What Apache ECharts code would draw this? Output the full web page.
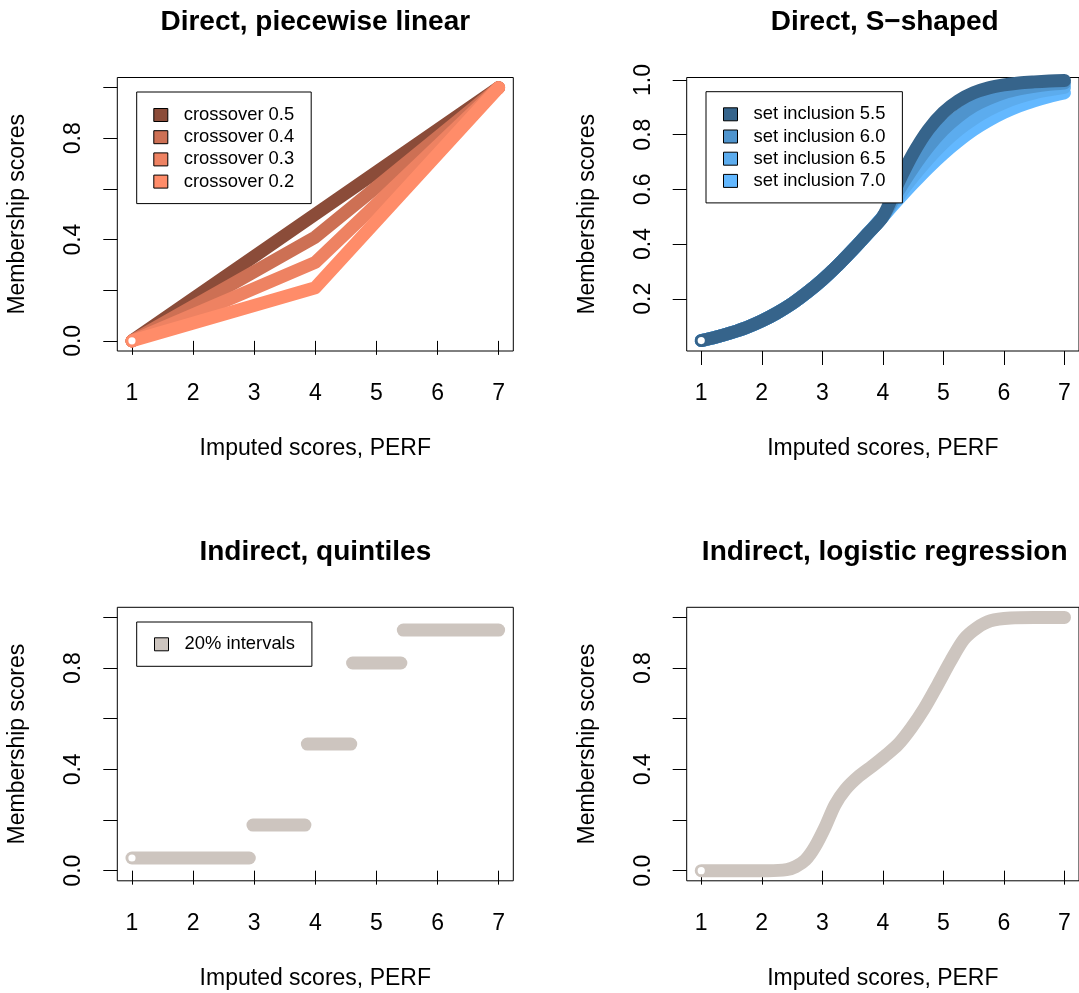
<!DOCTYPE html>
<html><head><meta charset="utf-8">
<script src="https://cdn.jsdelivr.net/npm/echarts@6/dist/echarts.min.js"></script>
<style>html,body{margin:0;padding:0;background:#fff}#c{width:1079px;height:993px}</style>
</head><body><div id="c"></div>
<script>
// ---------- tick values ----------
const xTicks = [1, 2, 3, 4, 5, 6, 7];
const yTicks = [0, 0.2, 0.4, 0.6, 0.8, 1.0];
const yLabelsA = [0, 0.4, 0.8];
const yLabelsB = [0.2, 0.4, 0.6, 0.8, 1.0];

// ---------- panel 1: direct, piecewise linear ----------
const pwX = [1, 4, 7];
const pwCross05 = [0, 0.50, 1];
const pwCross04 = [0, 0.41, 1];
const pwCross03 = [0, 0.31, 1];
const pwCross02 = [0, 0.21, 1];

// ---------- panel 2: direct, S-shaped ----------
const sX = [1.0, 1.25, 1.5, 1.75, 2.0, 2.25, 2.5, 2.75, 3.0, 3.25, 3.5, 3.75, 4.0, 4.25, 4.5, 4.75, 5.0, 5.25, 5.5, 5.75, 6.0, 6.25, 6.5, 6.75, 7.0];
const sIncl55 = [0.047, 0.060, 0.076, 0.095, 0.119, 0.148, 0.182, 0.223, 0.269, 0.321, 0.378, 0.438, 0.500, 0.622, 0.731, 0.818, 0.881, 0.924, 0.953, 0.971, 0.982, 0.989, 0.993, 0.996, 0.998];
const sIncl60 = [0.047, 0.060, 0.076, 0.095, 0.119, 0.148, 0.182, 0.223, 0.269, 0.321, 0.378, 0.438, 0.500, 0.593, 0.679, 0.755, 0.818, 0.867, 0.905, 0.932, 0.953, 0.967, 0.977, 0.984, 0.989];
const sIncl65 = [0.047, 0.060, 0.076, 0.095, 0.119, 0.148, 0.182, 0.223, 0.269, 0.321, 0.378, 0.438, 0.500, 0.574, 0.646, 0.711, 0.769, 0.818, 0.858, 0.891, 0.917, 0.937, 0.953, 0.964, 0.973];
const sIncl70 = [0.047, 0.060, 0.076, 0.095, 0.119, 0.148, 0.182, 0.223, 0.269, 0.321, 0.378, 0.438, 0.500, 0.562, 0.622, 0.679, 0.731, 0.777, 0.818, 0.852, 0.881, 0.905, 0.924, 0.940, 0.953];

// ---------- panel 3: indirect, quintiles ----------
const qStart = [1.0, 2.98, 3.87, 4.61, 5.44];
const qEnd   = [2.92, 3.83, 4.58, 5.40, 7.0];
const qLevel = [0.05, 0.18, 0.50, 0.82, 0.95];

// ---------- panel 4: indirect, logistic regression ----------
const lX = [1.0, 1.5, 2.1, 2.41, 2.56, 2.72, 2.88, 3.05, 3.21, 3.38, 3.6, 3.82, 4.03, 4.25, 4.47, 4.69, 4.91, 5.12, 5.34, 5.56, 5.78, 6.11, 6.5, 7.0];
const lY = [0.0, 0.0, 0.0, 0.004, 0.016, 0.042, 0.095, 0.174, 0.26, 0.32, 0.372, 0.412, 0.452, 0.498, 0.564, 0.643, 0.736, 0.828, 0.914, 0.96, 0.987, 0.998, 1.0, 1.0];

// ---------- colours ----------
const salmon = ['#8B4C39', '#CD7054', '#EE8262', '#FF8C69'];
const steel = ['#36648B', '#4F94CD', '#5CACEE', '#63B8FF'];
const grey = '#CDC5BF';

const F = '"Liberation Sans", Arial, sans-serif';
const BAND = 13;

function pairs(xs, ys) { return xs.map((x, i) => [x, ys[i]]); }

const grids = [
  {left: 117.3, top: 77.5, width: 396, height: 273.5},
  {left: 686.7, top: 77.5, width: 396, height: 273.5},
  {left: 117.3, top: 607.3, width: 396, height: 273.5},
  {left: 686.7, top: 607.3, width: 396, height: 273.5}
].map(g => Object.assign({show: true, borderColor: '#000', borderWidth: 1, backgroundColor: 'transparent', containLabel: false}, g));

function xAxis(gi) {
  return {
    type: 'value', gridIndex: gi, min: 0.76, max: 7.24,
    name: 'Imputed scores, PERF', nameLocation: 'middle', nameGap: 86,
    nameTextStyle: {fontFamily: F, fontSize: 23, color: '#000'},
    axisLine: {show: false}, splitLine: {show: false},
    axisTick: {show: true, length: 14, lineStyle: {color: '#000', width: 1}, customValues: xTicks},
    axisLabel: {customValues: xTicks, margin: 31, fontFamily: F, fontSize: 23, color: '#000', formatter: v => String(Math.round(v))}
  };
}
function yAxis(gi, min, max, labels) {
  return {
    type: 'value', gridIndex: gi, min: min, max: max,
    name: 'Membership scores', nameLocation: 'middle', nameGap: 88, nameRotate: 90,
    nameTextStyle: {fontFamily: F, fontSize: 23, color: '#000'},
    axisLine: {show: false}, splitLine: {show: false},
    axisTick: {show: true, length: 14, lineStyle: {color: '#000', width: 1}, customValues: yTicks},
    axisLabel: {customValues: labels, rotate: 90, margin: 32, fontFamily: F, fontSize: 23, color: '#000', formatter: v => v.toFixed(1)}
  };
}

function band(name, gi, data, color, extra) {
  return Object.assign({
    type: 'line', name: name, xAxisIndex: gi, yAxisIndex: gi, data: data,
    showSymbol: false, symbol: 'none', clip: true, silent: true, z: 2,
    itemStyle: {color: color},
    lineStyle: {color: color, width: BAND, cap: 'round', join: 'round'}
  }, extra || {});
}
function firstRing(name, gi, pt, color) {
  return {
    type: 'scatter', name: name, xAxisIndex: gi, yAxisIndex: gi, data: [pt],
    symbol: 'circle', symbolSize: 9, clip: false, silent: true, z: 5,
    itemStyle: {color: '#ffffff', opacity: 1, borderColor: color, borderWidth: 1.8}
  };
}

const series = [];
// panel 1 (0.5 drawn first, 0.2 on top)
const p1 = [['crossover 0.5', pwCross05], ['crossover 0.4', pwCross04], ['crossover 0.3', pwCross03], ['crossover 0.2', pwCross02]];
p1.forEach((s, i) => series.push(band(s[0], 0, pairs(pwX, s[1]), salmon[i])));
series.push(firstRing('p1start', 0, [pwX[0], pwCross02[0]], salmon[3]));

// panel 2 (7.0 drawn first, 5.5 on top)
const p2 = [['set inclusion 5.5', sIncl55], ['set inclusion 6.0', sIncl60], ['set inclusion 6.5', sIncl65], ['set inclusion 7.0', sIncl70]];
for (let i = 3; i >= 0; i--) series.push(band(p2[i][0], 1, pairs(sX, p2[i][1]), steel[i], {smooth: 0.3}));
series.push(firstRing('p2start', 1, [sX[0], sIncl55[0]], steel[0]));

// panel 3
qLevel.forEach((lv, i) => series.push(band('20% intervals', 2, [[qStart[i], lv], [qEnd[i], lv]], grey)));
series.push(firstRing('p3start', 2, [qStart[0], qLevel[0]], grey));

// panel 4
series.push(band('logistic', 3, pairs(lX, lY), grey, {smooth: 0.3}));
series.push(firstRing('p4start', 3, [lX[0], lY[0]], grey));

function legend(left, top, pad, names) {
  return {
    left: left, top: top, orient: 'vertical', padding: pad, z: 10,
    borderColor: '#000', borderWidth: 1, borderRadius: 0, backgroundColor: '#fff',
    icon: 'rect', itemWidth: 14, itemHeight: 13, itemGap: 4.2,
    itemStyle: {borderColor: '#000', borderWidth: 1},
    textStyle: {fontFamily: F, fontSize: 18.4, color: '#000', lineHeight: 18, padding: [0, 0, 0, 11]},
    selectedMode: false, data: names
  };
}

const titleStyle = {fontFamily: F, fontSize: 28, fontWeight: 'bold', color: '#000'};
const option = {
  animation: false,
  backgroundColor: '#fff',
  title: [
    {text: 'Direct, piecewise linear', left: 315.3, top: 8, textAlign: 'center', padding: 0, textStyle: titleStyle},
    {text: 'Direct, S\u2212shaped', left: 884.7, top: 8, textAlign: 'center', padding: 0, textStyle: titleStyle},
    {text: 'Indirect, quintiles', left: 315.3, top: 538, textAlign: 'center', padding: 0, textStyle: titleStyle},
    {text: 'Indirect, logistic regression', left: 884.7, top: 538, textAlign: 'center', padding: 0, textStyle: titleStyle}
  ],
  grid: grids,
  xAxis: [xAxis(0), xAxis(1), xAxis(2), xAxis(3)],
  yAxis: [yAxis(0, -0.04, 1.04, yLabelsA), yAxis(1, 0.009, 1.009, yLabelsB), yAxis(2, -0.04, 1.04, yLabelsA), yAxis(3, -0.04, 1.04, yLabelsA)],
  legend: [
    legend(136.7, 92, [14, 17, 13, 16.6], p1.map(s => s[0])),
    legend(706, 91.7, [13.6, 17, 13, 17], p2.map(s => s[0])),
    legend(136.7, 622, [13.3, 17, 13, 17.3], ['20% intervals'])
  ],
  series: series
};
const chart = echarts.init(document.getElementById('c'), null, {renderer: 'canvas'});
chart.setOption(option);
</script>
</body></html>
